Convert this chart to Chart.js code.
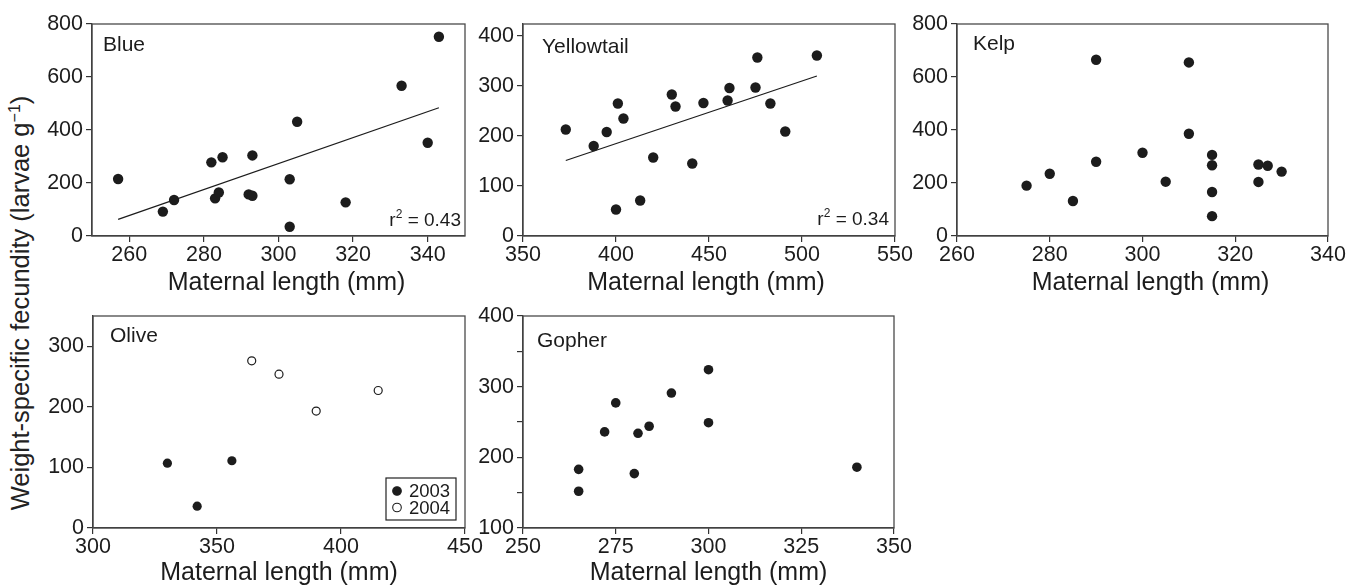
<!DOCTYPE html>
<html><head><meta charset="utf-8">
<script src="https://cdn.jsdelivr.net/npm/chart.js@4.4.1/dist/chart.umd.min.js"></script>
<style>
html,body{margin:0;padding:0;background:#fff;width:1365px;height:587px;overflow:hidden;position:relative;}
canvas{position:absolute;}
#ytitle{position:absolute;left:20px;top:303px;transform:translate(-50%,-50%) rotate(-90deg);white-space:nowrap;font:25.5px "Liberation Sans", Arial, Helvetica, sans-serif;color:#222;}
#ytitle sup{font-size:16px;vertical-align:9px;line-height:0;}
</style></head><body>
<div id="ytitle">Weight-specific fecundity (larvae g<sup>−1</sup>)</div>
<script>
// ---------------- data ----------------
const blueX = [257, 269, 272, 282, 285, 283, 284, 292, 293, 293, 303, 303, 305, 318, 333, 340, 343];
const blueY = [215, 92, 136, 278, 297, 142, 164, 157, 152, 304, 214, 35, 431, 127, 567, 352, 752];
const blueFitX = [257, 343];
const blueFitY = [63, 484];
const blueR2 = '0.43';

const yellowX = [373, 388, 395, 401, 400, 404, 413, 420, 430, 432, 441, 447, 460, 461, 475, 476, 483, 491, 508];
const yellowY = [213, 180, 208, 265, 53, 235, 71, 157, 283, 259, 145, 266, 271, 296, 297, 357, 265, 209, 361];
const yellowFitX = [373, 508];
const yellowFitY = [151, 320];
const yellowR2 = '0.34';

const kelpX = [275, 280, 285, 290, 290, 300, 305, 310, 310, 315, 315, 315, 315, 325, 325, 327, 330];
const kelpY = [190, 235, 132, 665, 280, 314, 205, 655, 386, 306, 267, 166, 75, 270, 204, 265, 243];

const olive2003X = [330, 342, 356];
const olive2003Y = [107, 36, 111];
const olive2004X = [364, 375, 390, 415];
const olive2004Y = [276, 254, 193, 227];

const gopherX = [265, 265, 272, 275, 280, 281, 284, 290, 300, 300, 340];
const gopherY = [183, 152, 236, 277, 177, 234, 244, 291, 324, 249, 186];

// axis ranges and ticks
const blueXRange = [250, 350], blueYRange = [0, 800];
const blueXTicks = [260, 280, 300, 320, 340], blueYTicks = [0, 200, 400, 600, 800];
const yellowXRange = [350, 550], yellowYRange = [0, 424];
const yellowXTicks = [350, 400, 450, 500, 550], yellowYTicks = [0, 100, 200, 300, 400];
const kelpXRange = [260, 340], kelpYRange = [0, 800];
const kelpXTicks = [260, 280, 300, 320, 340], kelpYTicks = [0, 200, 400, 600, 800];
const oliveXRange = [300, 450], oliveYRange = [0, 350];
const oliveXTicks = [300, 350, 400, 450], oliveYTicks = [0, 100, 200, 300];
const gopherXRange = [250, 350], gopherYRange = [100, 400];
const gopherXTicks = [250, 275, 300, 325, 350], gopherYTicks = [100, 200, 300, 400];
const gopherYMinor = [150, 250, 350];

const panelNames = ['Blue', 'Yellowtail', 'Kelp', 'Olive', 'Gopher'];
const legendLabels = ['2003', '2004'];
const xTitle = 'Maternal length (mm)';

// ---------------- drawing ----------------
const FONT = '"Liberation Sans", Arial, Helvetica, sans-serif';
const INK = '#1c1c1c';
const AX = '#333';
function pts(xs, ys) { return xs.map((x, i) => ({x: x, y: ys[i]})); }

const decor = {
  id: 'decor',
  beforeDatasetsDraw(chart, args, o) {
    const {ctx, chartArea: a} = chart;
    ctx.save();
    ctx.strokeStyle = '#4a4a4a';
    ctx.lineWidth = 1.3;
    ctx.strokeRect(a.left, a.top, a.right - a.left, a.bottom - a.top);
    ctx.restore();
  },
  afterDraw(chart, args, o) {
    const {ctx, chartArea: a} = chart;
    ctx.save();
    ctx.fillStyle = INK;
    // x-axis title
    const xs = chart.scales.x;
    ctx.font = '25px ' + FONT;
    ctx.textAlign = 'center';
    ctx.textBaseline = 'middle';
    ctx.fillText(xTitle, (a.left + a.right) / 2 + o.tdx, xs.bottom - 15);
    // panel label
    ctx.textBaseline = 'alphabetic';
    ctx.textAlign = 'left';
    ctx.font = '21px ' + FONT;
    ctx.fillText(o.label, a.left + o.lx, a.top + o.ly);
    if (o.r2) {
      const f1 = '19px ' + FONT, f2 = '12px ' + FONT;
      ctx.font = f1;
      const rest = ' = ' + o.r2;
      const wr = ctx.measureText('r').width, wrest = ctx.measureText(rest).width;
      ctx.font = f2;
      const w2 = ctx.measureText('2').width;
      const xe = a.right - o.rx, yb = a.bottom - o.ry;
      let x = xe - wrest - w2 - wr;
      ctx.font = f1; ctx.fillText('r', x, yb); x += wr;
      ctx.font = f2; ctx.fillText('2', x, yb - 8); x += w2;
      ctx.font = f1; ctx.fillText(rest, x, yb);
    }
    if (o.legend) {
      const ds = chart.data.datasets;
      const bw = 70, bh = 42;
      const bx = a.right - 9 - bw, by = a.bottom - 8 - bh;
      ctx.strokeStyle = '#222'; ctx.lineWidth = 1.2;
      ctx.strokeRect(bx, by, bw, bh);
      ctx.font = '18.5px ' + FONT;
      ctx.textBaseline = 'middle';
      [0, 1].forEach(i => {
        const cy = by + 13 + i * 16.5;
        ctx.beginPath();
        ctx.arc(bx + 11, cy, 4.3, 0, Math.PI * 2);
        ctx.fillStyle = ds[i].backgroundColor;
        ctx.fill();
        ctx.strokeStyle = INK; ctx.lineWidth = 1.1; ctx.stroke();
        ctx.fillStyle = INK;
        ctx.fillText(ds[i].label, bx + 23, cy + 1);
      });
    }
    ctx.restore();
  }
};

function makePanel(box, xRange, yRange, xTicks, yTicks, yLabeled, datasets, dec, axisH) {
  const [L, T, R, B] = box;
  const W = 72, PT = 16, PR = 34;
  const cv = document.createElement('canvas');
  const cw = W + (R - L) + PR, ch = PT + (B - T) + axisH;
  cv.width = cw; cv.height = ch;
  cv.style.left = (L - W) + 'px'; cv.style.top = (T - PT) + 'px';
  cv.style.width = cw + 'px'; cv.style.height = ch + 'px';
  document.body.appendChild(cv);
  const tickFont = {family: FONT, size: 21.5};
  new Chart(cv, {
    type: 'scatter',
    data: {datasets: datasets},
    plugins: [decor],
    options: {
      responsive: false, animation: false, devicePixelRatio: 1,
      layout: {padding: {top: PT, right: PR, left: 0, bottom: 0}},
      plugins: {legend: {display: false}, tooltip: {enabled: false}, decor: dec},
      scales: {
        x: {
          type: 'linear', position: 'bottom', min: xRange[0], max: xRange[1],
          afterBuildTicks: s => { s.ticks = xTicks.map(v => ({value: v})); },
          afterFit: s => { s.height = axisH; },
          ticks: {font: tickFont, color: INK, padding: 0, autoSkip: false, maxRotation: 0,
                  callback: v => String(v)},
          grid: {display: true, drawOnChartArea: false, drawTicks: true, tickLength: 6, color: AX, lineWidth: 1.2},
          border: {display: true, color: AX, width: 1.3},
          title: {display: false, text: xTitle}
        },
        y: {
          type: 'linear', position: 'left', min: yRange[0], max: yRange[1],
          afterBuildTicks: s => { s.ticks = yTicks.map(v => ({value: v})); },
          afterFit: s => { s.width = W; },
          ticks: {font: tickFont, color: INK, padding: 3, autoSkip: false,
                  callback: v => yLabeled.includes(v) ? String(v) : ''},
          grid: {display: true, drawOnChartArea: false, drawTicks: true, tickLength: 6, color: AX, lineWidth: 1.2},
          border: {display: true, color: AX, width: 1.3}
        }
      }
    }
  });
}

const dot = (data, r) => ({data: data, pointRadius: r, pointHoverRadius: r, backgroundColor: INK, borderColor: INK, borderWidth: 0});
const fit = (data) => ({data: data, showLine: true, pointRadius: 0, borderColor: INK, borderWidth: 1.3, fill: false});

makePanel([92, 24, 465, 236], blueXRange, blueYRange, blueXTicks, blueYTicks, blueYTicks,
  [dot(pts(blueX, blueY), 5.2), fit(pts(blueFitX, blueFitY))],
  {label: panelNames[0], lx: 11, ly: 27, r2: blueR2, rx: 4, ry: 10, tdx: 8}, 62);

makePanel([523, 24, 895, 236], yellowXRange, yellowYRange, yellowXTicks, yellowYTicks, yellowYTicks,
  [dot(pts(yellowX, yellowY), 5.2), fit(pts(yellowFitX, yellowFitY))],
  {label: panelNames[1], lx: 19, ly: 29, r2: yellowR2, rx: 6, ry: 11, tdx: -3}, 62);

makePanel([957, 24, 1328, 236], kelpXRange, kelpYRange, kelpXTicks, kelpYTicks, kelpYTicks,
  [dot(pts(kelpX, kelpY), 5.2)],
  {label: panelNames[2], lx: 16, ly: 26, tdx: 8}, 62);

makePanel([93, 316, 465, 528], oliveXRange, oliveYRange, oliveXTicks, oliveYTicks, oliveYTicks,
  [Object.assign(dot(pts(olive2003X, olive2003Y), 4.6), {label: legendLabels[0]}),
   {label: legendLabels[1], data: pts(olive2004X, olive2004Y), pointRadius: 4, backgroundColor: '#ffffff', borderColor: INK, borderWidth: 1.2}],
  {label: panelNames[3], lx: 17, ly: 26, legend: true, tdx: 0}, 60);

makePanel([523, 316, 894, 528], gopherXRange, gopherYRange, gopherXTicks, gopherYTicks.concat(gopherYMinor), gopherYTicks,
  [dot(pts(gopherX, gopherY), 4.8)],
  {label: panelNames[4], lx: 14, ly: 31, tdx: 0}, 60);
</script>
</body></html>
